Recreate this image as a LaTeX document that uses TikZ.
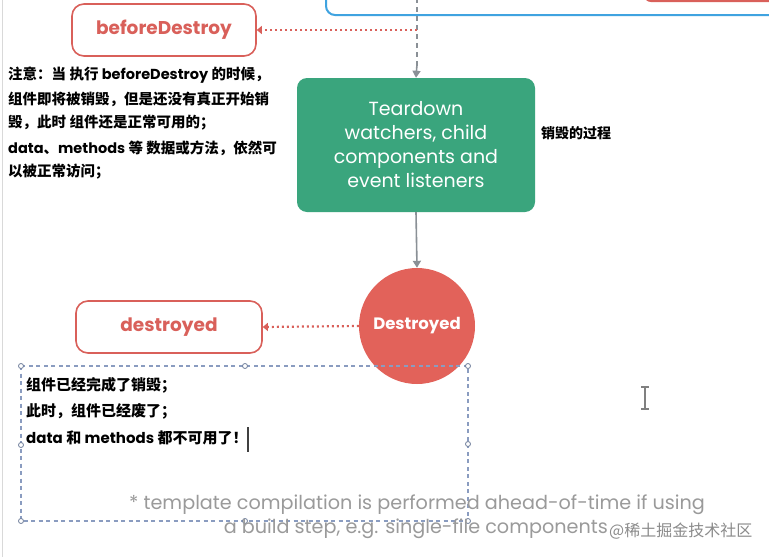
\documentclass[tikz,border=0pt]{standalone}
\usepackage{fontspec}
\setmainfont{Poppins}
\newfontfamily\cjk{Noto Sans CJK SC}
\usetikzlibrary{arrows.meta}
\definecolor{hookred}{HTML}{D9605A}
\definecolor{circred}{HTML}{E2625A}
\definecolor{vuegreen}{HTML}{3AA57D}
\definecolor{linegray}{HTML}{8A9096}
\definecolor{topblue}{HTML}{3FA3E0}
\definecolor{selblue}{HTML}{8A9CC0}
\definecolor{footgray}{HTML}{9A9A9A}
\newcommand{\lat}[1]{{\rmfamily\bfseries #1}}
\tikzset{
  hook/.style={draw=hookred, line width=1.6pt, rounded corners=12pt, fill=white,
    text=hookred, font=\bfseries\fontsize{18.5}{21}\selectfont, minimum height=52pt},
  dotarr/.style={hookred, line width=2.2pt, dash pattern=on 2pt off 3pt,
    -{Triangle[length=5pt,width=8pt]}},
  grayarr/.style={linegray, line width=1.6pt, -{Triangle[length=7pt,width=8pt]}},
  notetxt/.style={anchor=west, inner sep=0pt, font=\cjk\bfseries\fontsize{14.5}{16}\selectfont},
  donetxt/.style={anchor=west, inner sep=0pt, font=\cjk\bfseries\fontsize{15}{17}\selectfont},
  handle/.style={circle, draw=selblue!80!black, fill=white, line width=0.8pt, inner sep=0pt, minimum size=5pt},
}
\begin{document}
\begin{tikzpicture}[x=1pt,y=-1pt]
\useasboundingbox[fill=white] (0,0) rectangle (769,557);
\begin{scope}
\clip (0,0) rectangle (769,557);
% left border of the screenshot
\draw[gray!30, line width=1pt] (2,0) -- (2,557);
% top blue box
\draw[topblue, line width=2pt, rounded corners=9pt] (326,-30) rectangle (800,15);
\draw[hookred, line width=2pt, rounded corners=6pt] (645,-30) rectangle (800,1);
\coordinate (topstart) at (417,-2);
\coordinate (hookjoin) at (417,30);
\end{scope}

% green box
\node[fill=vuegreen, rounded corners=10pt, minimum width=238pt, minimum height=134pt,
  text=white, align=center, font=\fontsize{19}{24}\selectfont] (teardown) at (416,145)
  {Teardown\\watchers, child\\components and\\event listeners};
\draw[linegray, line width=1.6pt, dash pattern=on 5pt off 4pt] (topstart) -- (417,66);
\draw[grayarr] (417,64) -- (teardown.north);

% beforeDestroy hook
\node[hook, minimum width=184pt] (before) at (164,30) {beforeDestroy};
\draw[dotarr] (hookjoin) -- (before.east);

% note text
\node[notetxt] (n1) at (8,75) {注意：当 执行 \lat{beforeDestroy} 的时候，};
\node[notetxt] (n2) at (8,99) {组件即将被销毁，但是还没有真正开始销};
\node[notetxt] (n3) at (8,123) {毁，此时 组件还是正常可用的；};
\node[notetxt] (n4) at (8,148) {\lat{data}、\lat{methods} 等 数据或方法，依然可};
\node[notetxt] (n5) at (8,172) {以被正常访问；};

\node[anchor=west, inner sep=0pt, font=\cjk\bfseries\fontsize{14}{16}\selectfont] (proc) at (541,133) {销毁的过程};

% Destroyed circle
\node[circle, fill=circred, minimum size=116pt, inner sep=0pt, text=white,
  font=\bfseries\fontsize{16.5}{18}\selectfont] (destroyedc) at (417,326) {Destroyed};
\draw[grayarr] (teardown.south) -- (destroyedc.north);

% destroyed hook
\node[hook, minimum width=186pt] (destroyed) at (169,327) {destroyed};
\draw[dotarr] (destroyedc.west) -- (destroyed.east);

% selection box
\draw[selblue, line width=1.1pt, dash pattern=on 4pt off 3.5pt] (21,366) rectangle (468,521);
\foreach \p in {(21,366),(245,366),(468,366),(21,445),(468,444),(21,521),(245,521),(468,521)}
  \node[handle] at \p {};

\node[donetxt] (d1) at (26,385) {组件已经完成了销毁；};
\node[donetxt] (d2) at (26,411) {此时，组件已经废了；};
\node[donetxt] (d3) at (26,438) {\lat{data} 和 \lat{methods} 都不可用了！};
\draw[black!75, line width=1.2pt] (248,427) -- (248,452);

% I-beam cursor
\draw[gray, line width=1.4pt] (645,388) -- (645,408);
\draw[gray, line width=1.2pt] (641,387) -- (649,387) (641,409) -- (649,409);

% footnote
\node[text=footgray, font=\fontsize{19.2}{22}\selectfont, inner sep=0pt] (foot1) at (417,505)
  {* template compilation is performed ahead-of-time if using};
\node[text=footgray, font=\fontsize{19.2}{22}\selectfont, inner sep=0pt, anchor=east] (foot2) at (608,529)
  {a build step, e.g. single-file components};
\node[text=footgray!90!black, font=\cjk\fontsize{16}{18}\selectfont, inner sep=0pt, anchor=west] (wm) at (609,531)
  {@稀土掘金技术社区};
\end{tikzpicture}
\end{document}
